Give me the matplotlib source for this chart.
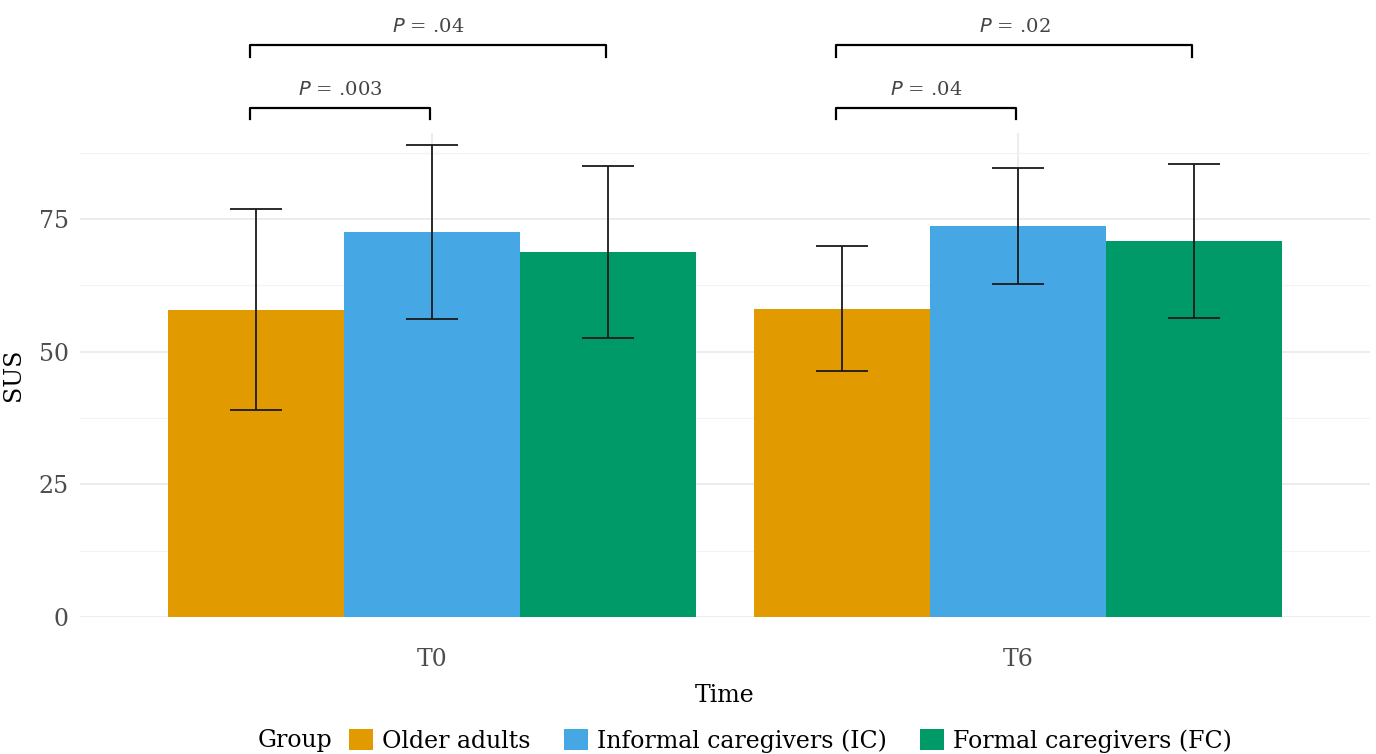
import matplotlib
matplotlib.use("Agg")
import matplotlib.pyplot as plt
import numpy as np
from matplotlib.patches import Patch
from matplotlib.ticker import MultipleLocator

plt.rcParams['font.family'] = ['DejaVu Serif']

# data
times = ['T0', 'T6']
groups = ['Older adults', 'Informal caregivers (IC)', 'Formal caregivers (FC)']
colors = ['#E19A00', '#45A7E4', '#009A68']
sus_mean = {
    'Older adults': [57.9, 58.1],
    'Informal caregivers (IC)': [72.5, 73.7],
    'Formal caregivers (FC)': [68.8, 70.9],
}
sus_sd = {
    'Older adults': [18.9, 11.8],
    'Informal caregivers (IC)': [16.4, 10.9],
    'Formal caregivers (FC)': [16.2, 14.5],
}
# significance brackets: (time index, group a, group b, label, level)
brackets = [
    (0, 0, 1, '.003', 0),
    (0, 0, 2, '.04', 1),
    (1, 0, 1, '.04', 0),
    (1, 0, 2, '.02', 1),
]

fig = plt.figure(figsize=(13.76, 7.54), dpi=100)
ax = fig.add_axes([80 / 1376, 1 - 617 / 754, 1290 / 1376, 484 / 754])

x = np.arange(1, len(times) + 1)
width = 0.3
offsets = [-width, 0, width]

for g, off, c in zip(groups, offsets, colors):
    ax.bar(x + off, sus_mean[g], width=width, color=c, zorder=2, linewidth=0)
    ax.errorbar(x + off, sus_mean[g], yerr=sus_sd[g], fmt='none', ecolor='#1a1a1a',
                elinewidth=1.3, capsize=19, capthick=1.3, zorder=3)

ax.set_xlim(0.4, 2.6)
ax.set_ylim(0, 91.2)
ax.yaxis.set_major_locator(MultipleLocator(25))
ax.yaxis.set_minor_locator(MultipleLocator(12.5))
ax.set_xticks(x)
ax.set_xticklabels(times)
ax.grid(True, which='major', color='#EBEBEB', linewidth=1.3, zorder=0)
ax.grid(True, which='minor', axis='y', color='#F3F3F3', linewidth=0.9, zorder=0)
ax.set_axisbelow(True)
for s in ax.spines.values():
    s.set_visible(False)
ax.tick_params(which='both', length=0, labelsize=17, labelcolor='#4D4D4D')
ax.tick_params(axis='x', pad=22)
ax.tick_params(axis='y', pad=8)
ax.set_xlabel('Time', fontsize=17, labelpad=10)
ax.set_ylabel('SUS', fontsize=17, labelpad=10)

# brackets
levels = [(95.9, 93.8, 99.3), (107.8, 105.5, 111.2)]
for ti, ga, gb, lab, lev in brackets:
    yl, yt, ytxt = levels[lev]
    xa = x[ti] + offsets[ga] - 0.01
    xb = x[ti] + offsets[gb] - 0.003
    ax.plot([xa, xa, xb, xb], [yt, yl, yl, yt], color='black', linewidth=1.6,
            clip_on=False, zorder=4)
    ax.text((xa + xb) / 2, ytxt, '$P$ = ' + lab, ha='center', va='center',
            fontsize=14, color='#444444', clip_on=False)

# legend along the bottom
fig.text(258 / 1376, 1 - 741 / 754, 'Group', fontsize=17, va='center', ha='left')
handles = [Patch(facecolor=c, edgecolor='none') for c in colors]
fig.legend(handles, groups, loc='center left', bbox_to_anchor=(340 / 1376, 1 - 741 / 754),
           ncol=3, frameon=False, fontsize=17, handlelength=1.0, handleheight=1.0,
           handletextpad=0.4, columnspacing=1.4, borderaxespad=0)

fig.savefig('out.png', dpi=100)
